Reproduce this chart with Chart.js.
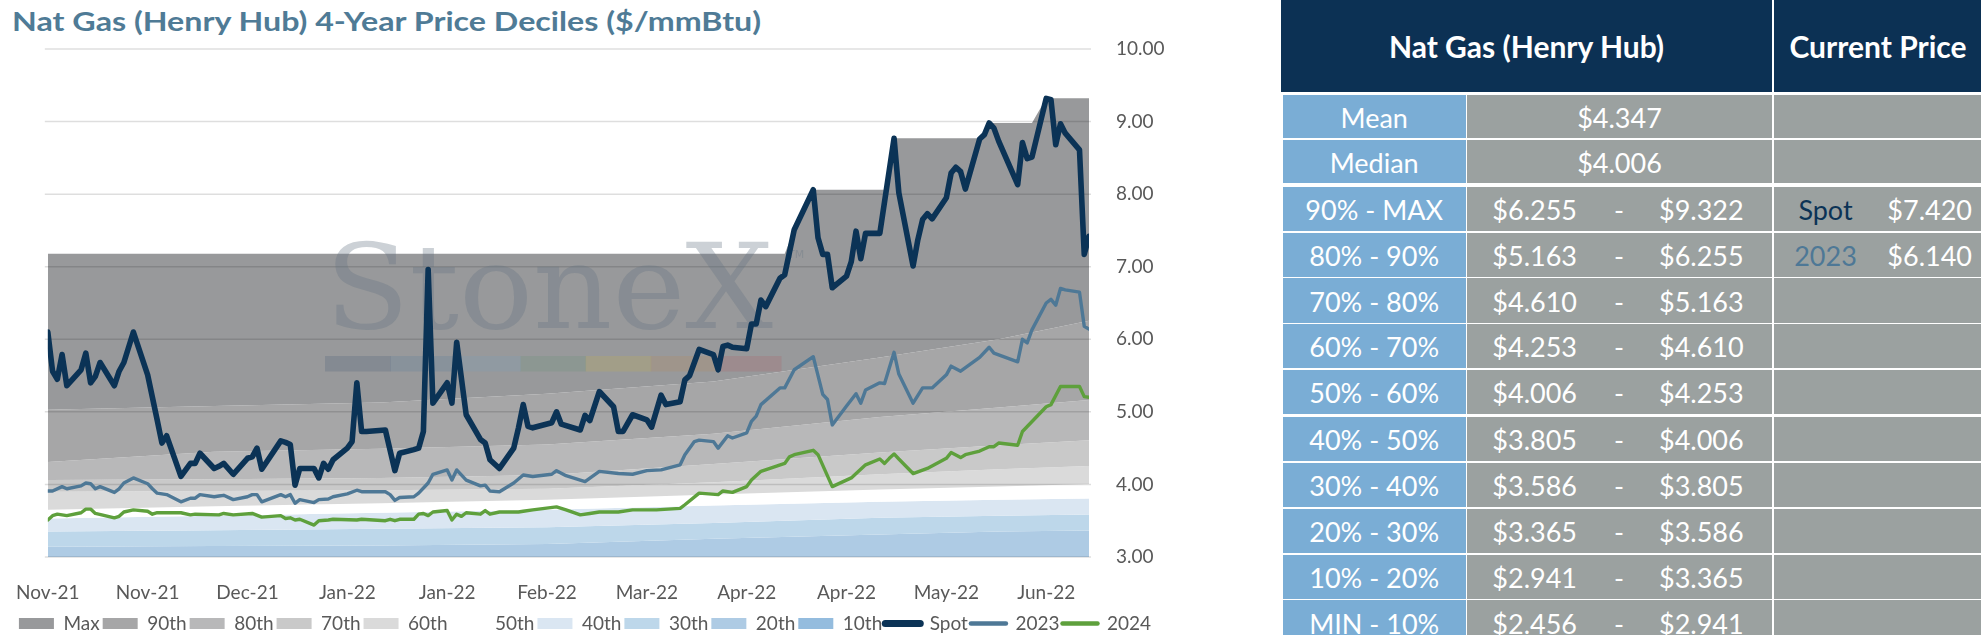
<!DOCTYPE html>
<html>
<head>
<meta charset="utf-8">
<title>Nat Gas (Henry Hub) 4-Year Price Deciles</title>
<script src="https://cdn.jsdelivr.net/npm/chart.js@4.4.1/dist/chart.umd.min.js"></script>
<style>
  html, body { margin:0; padding:0; background:#ffffff; }
  body { width:1981px; height:635px; overflow:hidden; position:relative; font-family:Lato, "Open Sans", sans-serif; }
  #title { position:absolute; left:12px; top:7.6px; font-family:Lato, sans-serif; font-weight:700; font-size:26px; line-height:26px; color:#4f7b96; white-space:nowrap; transform-origin:0 0; }
  #wrap { position:absolute; left:0; top:0; width:1170px; height:643px; }
  .c { position:absolute; box-sizing:border-box; color:#ffffff; font-family:Lato, sans-serif; font-size:27px; white-space:nowrap; }
  .c span { position:absolute; top:50%; line-height:1; }
  .c.h span { font-weight:700; }
</style>
</head>
<body>
<div id="title"></div>
<div id="wrap"><canvas id="chart"></canvas></div>
<div id="table"></div>
<script>
// ---------------- DATA ----------------
const chartTitle = 'Nat Gas (Henry Hub) 4-Year Price Deciles ($/mmBtu)';
const startDate = '2021-11-08';           // first trading day shown (day 0)
const endDate = '2022-06-15';             // last trading day shown
const tickDates  = ['2021-11-08','2021-11-29','2021-12-20','2022-01-10','2022-01-31','2022-02-21','2022-03-14','2022-04-04','2022-04-25','2022-05-16','2022-06-06'];
const tickLabels = ['Nov-21','Nov-21','Dec-21','Jan-22','Jan-22','Feb-22','Mar-22','Apr-22','Apr-22','May-22','Jun-22'];
const yMin = 3, yMax = 10, yStep = 1;

// series: [calendar day offset from startDate, $/mmBtu]
const spot = [[0,6.10],[1,5.56],[2,5.45],[3,5.79],[4,5.36],[7,5.58],[8,5.81],[9,5.40],[10,5.49],[11,5.68],[14,5.36],[15,5.56],[16,5.68],[18,6.10],
  [21,5.51],[22,5.20],[23,4.89],[24,4.57],[25,4.67],[28,4.11],[29,4.20],[30,4.29],[31,4.29],[32,4.43],[35,4.22],[36,4.25],[37,4.29],[39,4.14],
  [42,4.36],[43,4.38],[44,4.50],[45,4.21],[49,4.60],[50,4.58],[51,4.55],[52,3.99],[53,4.22],[56,4.22],[57,4.09],[58,4.29],[59,4.21],[60,4.34],
  [63,4.50],[64,4.59],[65,5.40],[66,4.73],[67,4.73],[71,4.75],[72,4.47],[73,4.19],[74,4.43],[77,4.48],[78,4.50],[79,4.73],[80,6.96],[81,5.12],
  [84,5.40],[85,5.12],[86,5.96],[88,4.96],[91,4.62],[92,4.57],[93,4.34],[95,4.22],[98,4.50],[99,4.78],[100,5.10],[101,4.80],[102,4.78],
  [106,4.85],[107,5.00],[108,4.83],[112,4.75],[113,4.95],[114,4.88],[116,5.28],[119,5.07],[120,4.73],[121,4.73],[123,4.96],[126,4.89],[127,4.79],
  [129,5.23],[130,5.10],[133,5.14],[134,5.44],[135,5.50],[137,5.86],[140,5.79],[141,5.58],[142,5.90],[143,5.92],[144,5.89],[147,5.87],[148,6.21],
  [149,6.21],[150,6.54],[151,6.45],[154,6.84],[155,6.89],[157,7.51],[161,8.06],[162,7.40],[163,7.17],[164,7.17],[165,6.71],[168,6.87],[169,7.07],
  [170,7.49],[171,7.11],[172,7.46],[175,7.46],[178,8.77],[179,8.02],[182,7.01],[183,7.37],[184,7.65],[185,7.73],[186,7.66],[189,7.95],[190,8.29],
  [191,8.37],[192,8.31],[193,8.07],[196,8.76],[197,8.82],[198,8.98],[199,8.91],[200,8.73],[204,8.13],[205,8.71],[206,8.49],[207,8.51],[210,9.32],
  [211,9.30],[212,8.68],[213,8.97],[214,8.84],[217,8.61],[218,7.17],[219,7.42]];
const strip2023 = [[0,3.91],[1,3.91],[3,3.97],[4,3.94],[7,3.98],[8,4.02],[9,4.01],[10,3.94],[11,3.97],[14,3.89],[15,3.94],[16,4.02],[18,4.09],
  [21,4.01],[22,3.94],[23,3.88],[25,3.86],[28,3.76],[30,3.81],[31,3.81],[32,3.86],[35,3.83],[36,3.84],[37,3.85],[39,3.79],[42,3.83],[43,3.86],
  [44,3.86],[45,3.76],[49,3.86],[50,3.83],[51,3.86],[52,3.74],[53,3.79],[56,3.75],[57,3.79],[59,3.80],[60,3.83],[63,3.87],[65,3.92],[66,3.90],
  [71,3.90],[72,3.86],[73,3.78],[74,3.82],[77,3.83],[78,3.88],[80,4.02],[81,4.14],[84,4.20],[85,4.06],[86,4.20],[88,4.06],[91,3.98],[92,3.99],
  [93,3.91],[95,3.90],[98,4.02],[100,4.13],[102,4.11],[106,4.14],[107,4.19],[109,4.12],[112,4.06],[113,4.04],[116,4.18],[120,4.15],[123,4.14],
  [126,4.19],[129,4.20],[133,4.27],[134,4.41],[136,4.59],[137,4.61],[140,4.59],[141,4.50],[143,4.67],[144,4.64],[147,4.71],[148,4.87],[149,4.94],
  [150,5.10],[154,5.33],[155,5.33],[157,5.58],[161,5.76],[163,5.24],[164,5.17],[165,4.82],[168,5.08],[170,5.25],[171,5.12],[172,5.30],[175,5.40],
  [176,5.39],[178,5.82],[179,5.52],[182,5.12],[184,5.33],[186,5.33],[189,5.51],[190,5.63],[192,5.56],[196,5.75],[198,5.89],[199,5.81],[204,5.69],
  [205,6.00],[206,5.95],[207,6.13],[210,6.50],[211,6.55],[212,6.47],[213,6.70],[214,6.68],[217,6.65],[218,6.18],[219,6.14]];
const strip2024 = [[0,3.51],[1,3.57],[2,3.59],[4,3.57],[7,3.61],[8,3.66],[9,3.66],[10,3.60],[14,3.54],[15,3.56],[16,3.62],[18,3.65],[21,3.63],
  [22,3.59],[23,3.61],[28,3.61],[30,3.58],[31,3.59],[36,3.58],[37,3.60],[39,3.58],[43,3.60],[45,3.55],[49,3.57],[50,3.53],[51,3.54],[52,3.51],
  [53,3.52],[56,3.44],[57,3.50],[59,3.51],[60,3.52],[65,3.51],[66,3.52],[71,3.50],[72,3.52],[73,3.50],[74,3.52],[77,3.52],[78,3.59],[79,3.60],
  [80,3.57],[81,3.62],[84,3.64],[85,3.51],[86,3.59],[87,3.56],[88,3.61],[91,3.59],[92,3.64],[93,3.59],[95,3.62],[99,3.62],[100,3.63],[102,3.65],
  [107,3.69],[109,3.65],[112,3.58],[114,3.60],[116,3.62],[120,3.62],[123,3.65],[128,3.65],[133,3.67],[134,3.72],[137,3.88],[141,3.86],[142,3.91],
  [144,3.89],[147,3.97],[148,4.06],[150,4.18],[155,4.29],[156,4.38],[157,4.41],[161,4.47],[162,4.41],[165,3.97],[169,4.09],[172,4.27],[175,4.35],
  [176,4.29],[177,4.36],[178,4.42],[179,4.35],[182,4.15],[185,4.22],[189,4.36],[190,4.44],[192,4.37],[193,4.41],[196,4.46],[198,4.52],[199,4.52],
  [200,4.57],[204,4.54],[205,4.73],[210,5.07],[211,5.10],[213,5.35],[217,5.35],[218,5.21],[219,5.20]];

// decile boundaries (4-year history) over time
const pMax = [[0,7.18],[155,7.18],[157,7.51],[161,8.06],[176,8.06],[177,8.33],[178,8.77],[196,8.77],[197,8.82],[198,8.98],[207,8.98],[210,9.322],[219,9.322]];
const bandDays = [0, 35, 70, 105, 140, 175, 200, 219];
const p90 = [5.03, 5.08, 5.13, 5.25, 5.42, 5.75, 6.00, 6.255];
const p80 = [4.31, 4.45, 4.49, 4.55, 4.70, 4.93, 5.06, 5.163];
const p70 = [4.06, 4.07, 4.09, 4.13, 4.28, 4.44, 4.54, 4.610];
const p60 = [3.90, 3.91, 3.92, 3.94, 4.03, 4.14, 4.21, 4.253];
const p50 = [3.65, 3.70, 3.74, 3.79, 3.86, 3.93, 3.97, 4.006];
const p40 = [3.53, 3.57, 3.61, 3.65, 3.71, 3.76, 3.79, 3.805];
const p30 = [3.35, 3.37, 3.39, 3.41, 3.47, 3.54, 3.57, 3.586];
const p20 = [3.14, 3.15, 3.16, 3.18, 3.25, 3.31, 3.35, 3.365];
const p10 = [2.80, 2.81, 2.83, 2.85, 2.88, 2.91, 2.93, 2.941];
const bandNames = ['Max','90th','80th','70th','60th','50th','40th','30th','20th','10th'];
const bandColors = ['#98999b','#a6a6a7','#b8b8b9','#c9c9c9','#dadada','#ffffff','#dae6f2','#bdd7ea','#aecbe4','#94bcde'];
const lineNames = ['Spot','2023','2024'];
const lineColors = ['#0b3356','#4e7896','#5ea03c'];

// table
const tableHead = ['Nat Gas (Henry Hub)', 'Current Price'];
const statNames = ['Mean', 'Median'];
const statValues = [4.347, 4.006];
const decileNames = ['90% - MAX','80% - 90%','70% - 80%','60% - 70%','50% - 60%','40% - 50%','30% - 40%','20% - 30%','10% - 20%','MIN - 10%'];
const decileLow  = [6.255, 5.163, 4.610, 4.253, 4.006, 3.805, 3.586, 3.365, 2.941, 2.456];
const decileHigh = [9.322, 6.255, 5.163, 4.610, 4.253, 4.006, 3.805, 3.586, 3.365, 2.941];
const currentNames = ['Spot', '2023'];
const currentValues = [7.420, 6.140];

// ---------------- BUILD ----------------
const DAY = 86400000;
const dayOf = s => Math.round((Date.parse(s) - Date.parse(startDate)) / DAY);
const tickDays = tickDates.map(dayOf);
const pairsToPts = arr => arr.map(([x, y]) => ({x, y}));
const bandValueSets = [p90, p80, p70, p60, p50, p40, p30, p20, p10];
const bandData = [pairsToPts(pMax)].concat(bandValueSets.map(vals => vals.map((v, i) => ({x: bandDays[i], y: v}))));
const lineData = [spot, strip2023, strip2024].map(pairsToPts);
const money = v => '$' + v.toFixed(3);

function buildTable() {
  const T = document.getElementById('table');
  const box = (x, y, w, h, bg, cls) => {
    const d = document.createElement('div');
    d.className = 'c' + (cls ? ' ' + cls : '');
    Object.assign(d.style, {left: x + 'px', top: y + 'px', width: w + 'px', height: h + 'px', background: bg});
    T.appendChild(d); return d;
  };
  const put = (cell, text, mode, pos, color, size) => {
    const s = document.createElement('span');
    s.textContent = text;
    if (mode === 'center') { s.style.left = pos + 'px'; s.style.transform = 'translate(-50%,-50%)'; }
    else if (mode === 'right') { s.style.right = pos + 'px'; s.style.transform = 'translateY(-50%)'; }
    else { s.style.left = pos + 'px'; s.style.transform = 'translateY(-50%)'; }
    if (color) s.style.color = color;
    if (size) s.style.fontSize = size + 'px';
    cell.appendChild(s);
  };
  const NAVY = '#0c3154', BLUE = '#7aadd5', GRAY = '#9ba1a0';
  const L = {x: 1282.7, w: 183}, V = {x: 1467, w: 305}, C = {x: 1773.5, w: 207.5};
  const h1 = box(1281, 0, 490.5, 91.5, NAVY, 'h'); put(h1, tableHead[0], 'center', 245.5, null, 30);
  const h2 = box(C.x, 0, C.w, 91.5, NAVY, 'h');  put(h2, tableHead[1], 'center', 104.5, null, 30);
  const statTops = [94.8, 140.1], statH = [43.6, 43.4];
  statNames.forEach((n, i) => {
    put(box(L.x, statTops[i], L.w, statH[i], BLUE), n, 'center', L.w / 2);
    put(box(V.x, statTops[i], V.w, statH[i], GRAY), money(statValues[i]), 'center', V.w / 2);
    box(C.x, statTops[i], C.w, statH[i], GRAY);
  });
  decileNames.forEach((n, i) => {
    const top = 186.7 + i * 45.83 + (i >= 5 ? 1.2 : 0), h = 44.3;
    put(box(L.x, top, L.w, h, BLUE), n, 'center', L.w / 2);
    const v = box(V.x, top, V.w, h, GRAY);
    put(v, money(decileLow[i]), 'right', 195);
    put(v, '-', 'center', 152);
    put(v, money(decileHigh[i]), 'left', 192);
    const c = box(C.x, top, C.w, h, GRAY);
    if (i < currentNames.length) {
      put(c, currentNames[i], 'center', 52, lineColors[i]);
      put(c, money(currentValues[i]), 'right', 9);
    }
  });
}

const decor = {
  id: 'decor',
  beforeDatasetDraw(chart, args) {
    if (args.index !== chart.data.datasets.length - 1) return; // first line drawn, after all bands
    const ctx = chart.ctx, ys = chart.scales.y, area = chart.chartArea;
    ctx.save();
    // gridlines over the bands
    ctx.strokeStyle = 'rgba(0,0,0,0.13)';
    ctx.lineWidth = 1.5;
    ys.ticks.forEach(t => {
      const py = ys.getPixelForValue(t.value);
      ctx.beginPath(); ctx.moveTo(area.left - 3, py); ctx.lineTo(area.right + 2, py); ctx.stroke();
    });
    // StoneX watermark
    ctx.font = '118px "DejaVu Serif", "Liberation Serif", serif';
    ctx.textBaseline = 'alphabetic';
    ctx.fillStyle = 'rgba(100,115,130,0.33)';
    const w = ctx.measureText('StoneX').width;
    ctx.save();
    ctx.translate(325, 328);
    ctx.scale(448 / w, 1);
    ctx.fillText('StoneX', 0, 0);
    ctx.restore();
    ctx.font = '11px "DejaVu Sans", sans-serif';
    ctx.fillText('TM', 788, 258);
    const bar = ['rgba(0,40,85,0.13)','rgba(0,90,160,0.10)','rgba(90,160,210,0.13)','rgba(40,140,70,0.10)','rgba(240,200,0,0.12)','rgba(230,120,0,0.10)','rgba(200,30,40,0.11)'];
    const bw = (781 - 325) / bar.length;
    bar.forEach((col, i) => { ctx.fillStyle = col; ctx.fillRect(325 + i * bw, 356, bw + 0.5, 15.5); });
    ctx.restore();
  }
};

function buildChart() {
  const datasets = [];
  bandNames.forEach((name, i) => datasets.push({
    label: name, data: bandData[i], backgroundColor: bandColors[i], borderColor: bandColors[i],
    borderWidth: 0, pointRadius: 0, pointHoverRadius: 0, tension: 0,
    fill: i < bandNames.length - 1 ? '+1' : 'start', order: 10, pointStyle: 'rect'
  }));
  const widths = [5.6, 3.4, 3.4], legendWidths = [7, 4.5, 4.5];
  lineNames.forEach((name, i) => datasets.push({
    label: name, data: lineData[i], borderColor: lineColors[i], backgroundColor: lineColors[i],
    borderWidth: widths[i], legendWidth: legendWidths[i], pointRadius: 0, pointHoverRadius: 0, tension: 0,
    fill: false, order: i, pointStyle: 'line', borderJoinStyle: 'round', borderCapStyle: 'round'
  }));
  const font = {family: 'Lato', size: 19};
  new Chart(document.getElementById('chart'), {
    type: 'line',
    data: {datasets},
    plugins: [decor],
    options: {
      responsive: true, maintainAspectRatio: false, animation: false,
      layout: {padding: {left: 0, top: 49, right: 0, bottom: 0}},
      events: [],
      scales: {
        x: {
          type: 'linear', min: 0, max: dayOf(endDate),
          grid: {display: false}, border: {display: false},
          afterBuildTicks: s => { s.ticks = tickDays.map(v => ({value: v})); },
          afterFit: s => { s.height = 54; },
          ticks: {autoSkip: false, maxRotation: 0, padding: 16, color: '#595959', font,
                  callback: v => { const k = tickDays.indexOf(v); return k >= 0 ? tickLabels[k] : ''; }}
        },
        y: {
          position: 'right', min: yMin, max: yMax,
          grid: {display: false}, border: {display: false},
          afterFit: s => { s.width = 81; },
          ticks: {stepSize: yStep, padding: 19, color: '#595959', font, callback: v => v.toFixed(2)}
        },
        yLeft: {
          position: 'left', min: yMin, max: yMax, display: true,
          grid: {display: false}, border: {display: false}, ticks: {display: false},
          afterFit: s => { s.width = 41; }
        }
      },
      plugins: {
        title: {display: false}, tooltip: {enabled: false},
        legend: {
          display: true, position: 'bottom',
          labels: {
            usePointStyle: true, pointStyleWidth: 35, boxHeight: 11, padding: 3, color: '#595959', font,
            generateLabels: chart => chart.data.datasets.map((ds, i) => ({
              text: ds.label, datasetIndex: i, hidden: false, fontColor: '#595959',
              fillStyle: ds.backgroundColor, strokeStyle: ds.borderColor,
              lineWidth: ds.pointStyle === 'line' ? ds.legendWidth : 0,
              pointStyle: ds.pointStyle, lineCap: 'round', rotation: 0
            }))
          }
        }
      }
    }
  });
}

function fitTitle() {
  const t = document.getElementById('title');
  t.textContent = chartTitle;
  const w = t.getBoundingClientRect().width;
  t.style.transform = 'scaleX(' + (749 / w) + ')';
}

Promise.all([document.fonts.load('19px Lato'), document.fonts.load('700 26px Lato'), document.fonts.load('118px "DejaVu Serif"')])
  .catch(() => {}).then(() => { fitTitle(); buildTable(); buildChart(); });
</script>
</body>
</html>
